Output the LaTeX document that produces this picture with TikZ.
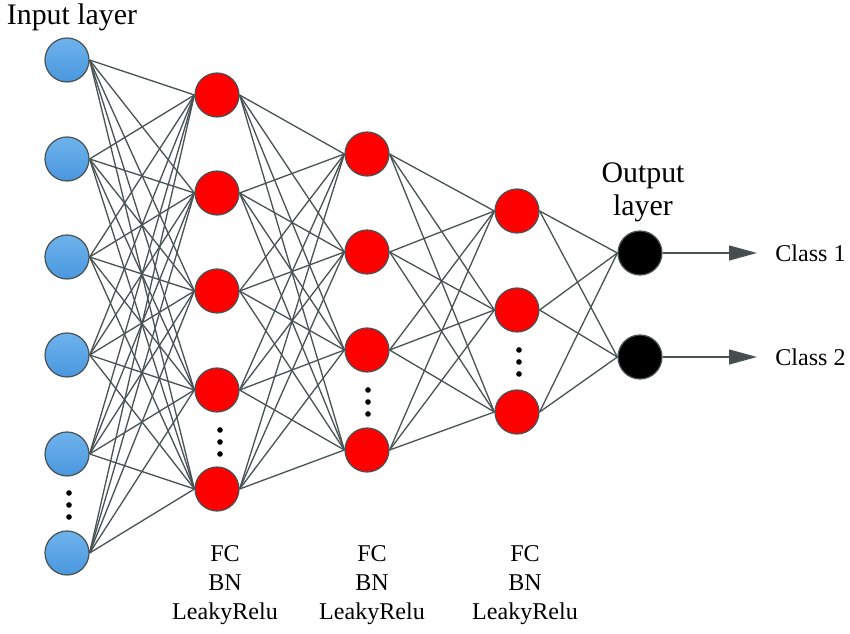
\documentclass[tikz,border=0pt]{standalone}
\usepackage{fontspec}
\setmainfont{Liberation Serif}
\usetikzlibrary{arrows.meta}

\definecolor{edgegray}{HTML}{4A5353}
\definecolor{bluetop}{HTML}{6EB3EC}
\definecolor{bluebot}{HTML}{4A97DF}
\definecolor{tipgray}{HTML}{454D4D}

\tikzset{
  neuron/.style={circle, draw=edgegray, line width=0.7pt, minimum size=0.88cm, inner sep=0pt},
  inneuron/.style={neuron, top color=bluetop, bottom color=bluebot},
  hidneuron/.style={neuron, fill=red},
  outneuron/.style={neuron, fill=black},
  link/.style={draw=edgegray, line width=0.75pt},
  bigtext/.style={font=\fontsize{17}{18.8}\selectfont, inner sep=0pt, align=center},
  smalltext/.style={font=\fontsize{13.7}{16.5}\selectfont, inner sep=0pt, align=center},
}

\begin{document}
\begin{tikzpicture}[x=0.02cm,y=-0.02cm]
\useasboundingbox (0,0) rectangle (850,634);
% layers of neurons
\foreach \n/\y in {1/60,2/159,3/257,4/355,5/454,6/553}
  \node[inneuron] (i\n) at (67,\y) {};
\foreach \n/\y in {1/95,2/193,3/291,4/390,5/489}
  \node[hidneuron] (a\n) at (217,\y) {};
\foreach \n/\y in {1/154,2/252,3/350,4/450}
  \node[hidneuron] (b\n) at (367,\y) {};
\foreach \n/\y in {1/211,2/310,3/412}
  \node[hidneuron] (c\n) at (517,\y) {};
\node[outneuron] (o1) at (640,253) {};
\node[outneuron] (o2) at (640,357) {};
% connections
\foreach \s in {1,...,6}
  \foreach \t in {1,...,5}
    \draw[link] (i\s.east) -- (a\t.west);
\foreach \s in {1,...,5}
  \foreach \t in {1,...,4}
    \draw[link] (a\s.east) -- (b\t.west);
\foreach \s in {1,...,4}
  \foreach \t in {1,...,3}
    \draw[link] (b\s.east) -- (c\t.west);
\foreach \s in {1,...,3}
  \foreach \t in {1,2}
    \draw[link] (c\s.east) -- (o\t.west);
% vertical dots
\foreach \x/\y in {69/505,220/442,368/402,519/362}
  \foreach \d in {-12,0,12}
    \fill[black] (\x,\y+\d) circle (1.6pt);
% labels
\node[bigtext] (inlabel) at (72,17) {Input layer};
\node[bigtext] (outlabel) at (643,192) {Output\\layer};
\node[smalltext] (fc1) at (225,585) {FC\\BN\\LeakyRelu};
\node[smalltext] (fc2) at (372,585) {FC\\BN\\LeakyRelu};
\node[smalltext] (fc3) at (525,585) {FC\\BN\\LeakyRelu};
\node[smalltext, anchor=west] (cls1) at (775,253) {Class 1};
\node[smalltext, anchor=west] (cls2) at (775,357) {Class 2};
% outputs
\draw[link, -{Triangle[length=0.56cm, width=0.3cm, fill=tipgray]}, shorten >=0.36cm] (o1.east) -- (cls1.west);
\draw[link, -{Triangle[length=0.56cm, width=0.3cm, fill=tipgray]}, shorten >=0.36cm] (o2.east) -- (cls2.west);
\end{tikzpicture}
\end{document}
